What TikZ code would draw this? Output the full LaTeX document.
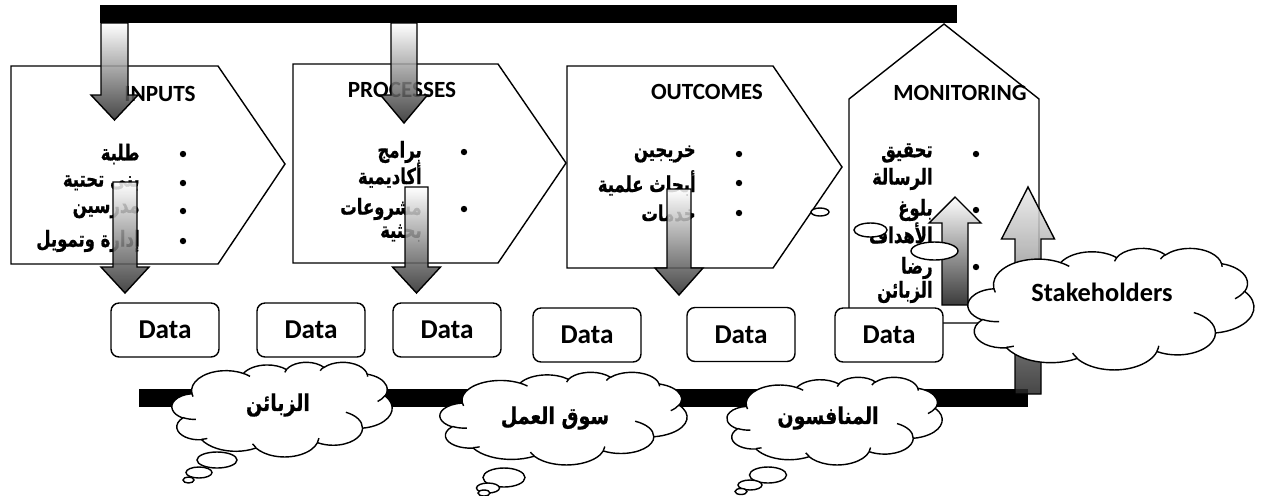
\documentclass[tikz,border=0pt]{standalone}
\usepackage{fontspec}
\setmainfont{Carlito}
\newfontfamily\arabicfont[Script=Arabic,FakeStretch=0.75,FakeBold=0.7]{DejaVu Sans}
\newfontfamily\arabiccloudfont[Script=Arabic,FakeStretch=0.82,FakeBold=0.7]{DejaVu Sans}
\TeXXeTstate=1
\newcommand\rtl[1]{\beginR #1\endR}
\tikzset{
  outline/.style={draw, fill=white, line width=0.8pt, line join=miter},
  headtext/.style={font=\bfseries\fontsize{13.2}{15}\selectfont, inner sep=0},
  artext/.style={font=\arabicfont\bfseries\fontsize{12.5}{14}\selectfont, inner sep=0, anchor=east},
  cloudtext/.style={font=\arabiccloudfont\bfseries\fontsize{13.2}{15}\selectfont, inner sep=0},
  databox/.style={draw, fill=white, line width=0.8pt, rounded corners=0.16cm,
    minimum width=2.16cm, minimum height=1.08cm, inner sep=0,
    font=\bfseries\fontsize{15.5}{18}\selectfont},
  arrowshade/.style={draw=black, line width=0.8pt, top color=white, bottom color=black!85, fill opacity=0.85},
  bubble/.style={draw, fill=white, line width=0.8pt},
}
\newcommand\blockarrow[7][]{%
  \shadedraw[arrowshade,#1] ({#2-#6},#3) -- ({#2+#6},#3) -- ({#2+#6},#4) -- ({#2+#7},#4)
    -- (#2,#5) -- ({#2-#7},#4) -- ({#2-#6},#4) -- cycle;}
\newcommand\bul[2]{\fill (#1,#2) circle[radius=3.2];}
\newcommand\wcloud[4]{%
\begin{scope}[shift={(#1,#2)},x=1pt,y=1pt,xscale={#3*0.00131726},yscale={-#4*0.00131726}]
\filldraw[fill=white,line width=0.8pt] (39.00,143.70)
 arc[start angle=-187.75,end angle=-59.64,x radius=67.53,y radius=91.90]
 arc[start angle=-152.03,end angle=-45.46,x radius=53.33,y radius=72.67]
 arc[start angle=-153.49,end angle=-37.33,x radius=43.65,y radius=59.45]
 arc[start angle=-139.72,end angle=-10.21,x radius=48.57,y radius=65.95]
 arc[start angle=-74.77,end angle=23.21,x radius=53.33,y radius=72.73]
 arc[start angle=-37.53,end angle=81.86,x radius=67.75,y radius=92.20]
 arc[start angle=0.46,end angle=121.98,x radius=57.85,y radius=78.67]
 arc[start angle=16.85,end angle=146.22,x radius=67.52,y radius=92.15]
 arc[start angle=58.98,end angle=150.19,x radius=77.20,y radius=105.43]
 arc[start angle=83.31,end angle=223.11,x radius=43.60,y radius=59.18]
 arc[start angle=120.35,end angle=264.11,x radius=43.45,y radius=59.45]
 -- cycle;
\draw[line width=0.8pt]
 (46.93,261.77) arc[start angle=85.55,end angle=120.35,x radius=43.45,y radius=59.45]
 (69.28,348.99) arc[start angle=68.24,end angle=83.31,x radius=43.60,y radius=59.18]
 (164.78,390.90) arc[start angle=146.22,end angle=158.48,x radius=67.52,y radius=92.15]
 (288.27,347.51) arc[start angle=4.74,end angle=16.85,x radius=67.52,y radius=92.15]
 (341.29,229.54) arc[start angle=-64.03,end angle=0.46,x radius=57.85,y radius=78.67]
 (417.98,153.54) arc[start angle=23.21,end angle=49.64,x radius=53.33,y radius=72.73]
 (383.24,54.26) arc[start angle=-10.21,end angle=0.82,x radius=48.57,y radius=65.95]
 (290.78,39.52) arc[start angle=-156.29,end angle=-139.72,x radius=48.57,y radius=65.95]
 (221.41,47.20) arc[start angle=-167.73,end angle=-153.49,x radius=43.65,y radius=59.45]
 (140.00,51.92) arc[start angle=-59.64,end angle=-45.74,x radius=67.53,y radius=91.90]
 (41.27,157.89) arc[start angle=163.20,end angle=172.26,x radius=67.53,y radius=91.90];
\end{scope}}
\begin{document}
\begin{tikzpicture}[x=0.02cm,y=-0.02cm]
\useasboundingbox (0,0) rectangle (1267,495);
% top bar
\fill (100,5) rectangle (957,23);
% stage shapes
\draw[outline] (11,66) -- (218,66) -- (285,164) -- (218,264) -- (11,264) -- cycle;
\draw[outline] (293,64) -- (498,64) -- (566,163) -- (498,263) -- (293,263) -- cycle;
\draw[outline] (567,66) -- (773,66) -- (842,167) -- (773,268) -- (567,268) -- cycle;
\draw[outline] (849,323) -- (849,99) -- (944,24) -- (1039,99) -- (1039,323) -- cycle;
% headings
\node[headtext] (hin) at (160,94) {INPUTS};
\node[headtext] (hpr) at (402,90) {PROCESSES};
\node[headtext] (hout) at (707,92) {OUTCOMES};
\node[headtext] (hmon) at (960,93) {MONITORING};
% inputs
\node[artext] (in1) at (140,154) {\rtl{طلبة}};
\node[artext] (in2) at (140,183) {\rtl{بنى تحتية}};
\node[artext] (in3) at (140,211) {\rtl{مدرسين}};
\node[artext] (in4) at (140,241) {\rtl{إدارة وتمويل}};
\bul{183}{154}\bul{183}{183}\bul{183}{211}\bul{183}{241}
% processes
\node[artext] (pr1) at (422,152) {\rtl{برامج}};
\node[artext] (pr1b) at (422,175) {\rtl{أكاديمية}};
\node[artext] (pr2) at (422,209) {\rtl{مشروعات}};
\node[artext] (pr2b) at (422,233) {\rtl{بحثية}};
\bul{464}{152}\bul{464}{209}
% outcomes
\node[artext] (ou1) at (696,154) {\rtl{خريجين}};
\node[artext] (ou2) at (696,183) {\rtl{أبحاث علمية}};
\node[artext] (ou3) at (696,213) {\rtl{خدمات}};
\bul{739}{154}\bul{739}{183}\bul{739}{213}
% monitoring
\node[artext] (mo1) at (933,153) {\rtl{تحقيق}};
\node[artext] (mo1b) at (933,179) {\rtl{الرسالة}};
\node[artext] (mo2) at (933,210) {\rtl{بلوغ}};
\node[artext] (mo2b) at (933,233) {\rtl{الأهداف}};
\node[artext] (mo3) at (933,268) {\rtl{رضا}};
\node[artext] (mo3b) at (933,292) {\rtl{الزبائن}};
\bul{976}{154}\bul{976}{210}\bul{976}{267}
% arrows
\blockarrow{114.5}{23}{95}{120}{13.5}{23.5}
\blockarrow{125}{182}{267}{293}{12}{24}
\blockarrow{404}{23}{95}{123}{13}{23.5}
\blockarrow{416.5}{187}{267}{293}{11.5}{24}
\blockarrow{679}{189}{268}{295}{12}{24}
\blockarrow[bottom color=black!90]{955}{305}{223}{197}{13}{26}
% small ellipses
\draw[bubble] (820,212) ellipse[x radius=9, y radius=4];
\draw[bubble] (870.5,230) ellipse[x radius=16.5, y radius=7];
\draw[bubble] (934.5,251) ellipse[x radius=23.5, y radius=9];
% data boxes
\node[databox] (d1) at (165,330) {Data};
\node[databox] (d2) at (311,330) {Data};
\node[databox] (d3) at (447,330) {Data};
\node[databox] (d4) at (587,335) {Data};
\node[databox] (d5) at (741,334.5) {Data};
\node[databox] (d6) at (889,335) {Data};
% bottom bar
\fill (139,389) rectangle (1028,407);
% stakeholder arrow
\blockarrow[top color=black!8, bottom color=black!85]{1028}{394}{239}{187}{13}{26.5}
% stakeholders cloud
\wcloud{968}{248}{287}{122}
\node[font=\bfseries\fontsize{15}{18}\selectfont, inner sep=0] (stk) at (1102,292) {Stakeholders};
% bottom clouds
\wcloud{172}{362}{221}{95}
\node[cloudtext] (cl1) at (278,405) {\rtl{الزبائن}};
\draw[bubble] (217,460) ellipse[x radius=20, y radius=8];
\draw[bubble] (199,472.5) ellipse[x radius=13, y radius=5.5];
\draw[bubble] (188.5,480) ellipse[x radius=5.5, y radius=3];
\wcloud{440}{372}{248}{93}
\node[cloudtext] (cl2) at (555,418) {\rtl{سوق العمل}};
\draw[bubble] (504,477.5) ellipse[x radius=21, y radius=9.5];
\draw[bubble] (488,488) ellipse[x radius=11.5, y radius=5];
\draw[bubble] (484,493) ellipse[x radius=6, y radius=3];
\wcloud{727}{377}{216}{88}
\node[cloudtext] (cl3) at (828,418) {\rtl{المنافسون}};
\draw[bubble] (768,475) ellipse[x radius=18.5, y radius=8];
\draw[bubble] (750,485) ellipse[x radius=12, y radius=5];
\draw[bubble] (741,491.5) ellipse[x radius=6, y radius=3];
\end{tikzpicture}
\end{document}
